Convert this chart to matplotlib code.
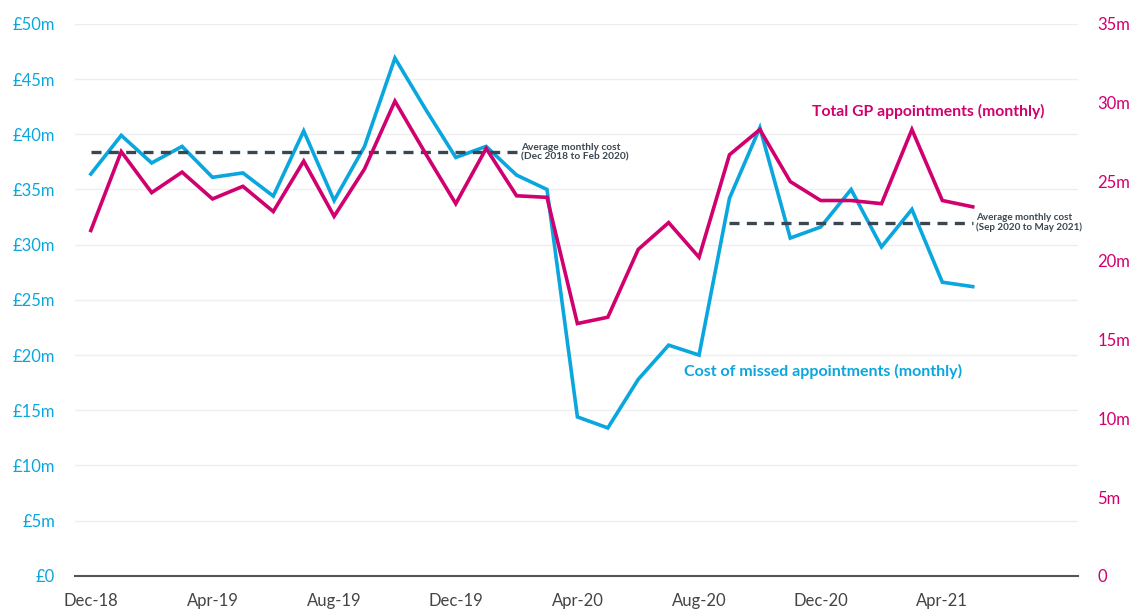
import matplotlib
matplotlib.use("Agg")
import matplotlib.pyplot as plt
import numpy as np

BLUE = '#0AA6DE'
PINK = '#D0006F'
DARK = '#3A4650'
GRID = '#EEEEEE'

months = ['Dec-18', 'Jan-19', 'Feb-19', 'Mar-19', 'Apr-19', 'May-19', 'Jun-19', 'Jul-19',
          'Aug-19', 'Sep-19', 'Oct-19', 'Nov-19', 'Dec-19', 'Jan-20', 'Feb-20', 'Mar-20',
          'Apr-20', 'May-20', 'Jun-20', 'Jul-20', 'Aug-20', 'Sep-20', 'Oct-20', 'Nov-20',
          'Dec-20', 'Jan-21', 'Feb-21', 'Mar-21', 'Apr-21', 'May-21']

# cost of missed appointments, £m (left axis)
missed_cost = [36.4, 39.9, 37.4, 38.9, 36.1, 36.5, 34.4, 40.3, 34.0, 38.9,
               46.9, 42.3, 37.9, 38.9, 36.3, 35.0, 14.4, 13.4, 17.8, 20.9,
               20.0, 34.2, 40.6, 30.6, 31.6, 35.0, 29.8, 33.2, 26.6, 26.2]

# total GP appointments, millions (right axis)
gp_appts = [21.9, 26.9, 24.3, 25.6, 23.9, 24.7, 23.1, 26.3, 22.8, 25.8,
            30.1, 26.8, 23.6, 27.1, 24.1, 24.0, 16.0, 16.4, 20.7, 22.4,
            20.2, 26.7, 28.3, 25.0, 23.8, 23.8, 23.6, 28.3, 23.8, 23.4]

# average monthly cost lines
avg1_range = ('Dec-18', 'Feb-20')
avg1_value = 38.4
avg2_range = ('Sep-20', 'May-21')
avg2_value = 32.0

left_ticks = [0, 5, 10, 15, 20, 25, 30, 35, 40, 45, 50]
left_labels = ['£0'] + ['£%dm' % v for v in left_ticks[1:]]
right_ticks = [0, 5, 10, 15, 20, 25, 30, 35]
right_labels = ['0'] + ['%dm' % v for v in right_ticks[1:]]
xtick_labels = ['Dec-18', 'Apr-19', 'Aug-19', 'Dec-19', 'Apr-20', 'Aug-20', 'Dec-20', 'Apr-21']

plt.rcParams['font.family'] = ['Lato', 'DejaVu Sans']

fig = plt.figure(figsize=(11.32, 6.12), dpi=100)
ax = fig.add_axes([0.066, 0.059, 0.886, 0.902])
ax2 = ax.twinx()

x = np.arange(len(months))

ax.plot(x, missed_cost, color=BLUE, lw=2.6, solid_joinstyle='miter', zorder=3)
ax2.plot(x, gp_appts, color=PINK, lw=2.6, solid_joinstyle='miter', zorder=3)

i0, i1 = months.index(avg1_range[0]), months.index(avg1_range[1])
ax.plot([i0, i1], [avg1_value, avg1_value], color=DARK, lw=2.4, ls=(0, (3, 2.2)), zorder=4)
j0, j1 = months.index(avg2_range[0]), months.index(avg2_range[1])
ax.plot([j0, j1], [avg2_value, avg2_value], color=DARK, lw=2.4, ls=(0, (3, 2.2)), zorder=4)

ax.text(i1 + 0.15, avg1_value, 'Average monthly cost\n(Dec 2018 to Feb 2020)', fontsize=7.3,
        fontweight='bold', color=DARK, va='center', ha='left', linespacing=1.1)
ax.text(j1 + 0.12, avg2_value, 'Average monthly cost\n(Sep 2020 to May 2021)', fontsize=7.1,
        fontweight='bold', color=DARK, va='center', ha='left', linespacing=1.1)

ax.text(23.7, 42.1, 'Total GP appointments (monthly)', fontsize=11.3, fontweight='bold',
        color=PINK, ha='left', va='center')
ax.text(19.5, 18.5, 'Cost of missed appointments (monthly)', fontsize=11.5, fontweight='bold',
        color=BLUE, ha='left', va='center')

ax.set_xlim(-0.53, 32.45)
ax.set_ylim(0, 50)
ax2.set_ylim(0, 35)

ax.set_yticks(left_ticks)
ax.set_yticklabels(left_labels)
ax2.set_yticks(right_ticks)
ax2.set_yticklabels(right_labels)
ax.set_xticks([months.index(m) for m in xtick_labels])
ax.set_xticklabels(xtick_labels)

ax.tick_params(axis='y', length=0, labelsize=12, labelcolor=BLUE, pad=14)
ax2.tick_params(axis='y', length=0, labelsize=12, labelcolor=PINK, pad=14)
ax.tick_params(axis='x', length=0, labelsize=12, labelcolor='#444444', pad=12)

ax.yaxis.grid(True, color=GRID, lw=1)
ax.set_axisbelow(True)

for a in (ax, ax2):
    for s in ['top', 'left', 'right', 'bottom']:
        a.spines[s].set_visible(False)
ax.spines['bottom'].set_visible(True)
ax.spines['bottom'].set_color('#555555')
ax.spines['bottom'].set_linewidth(1.5)

fig.savefig('out.png', dpi=100)
